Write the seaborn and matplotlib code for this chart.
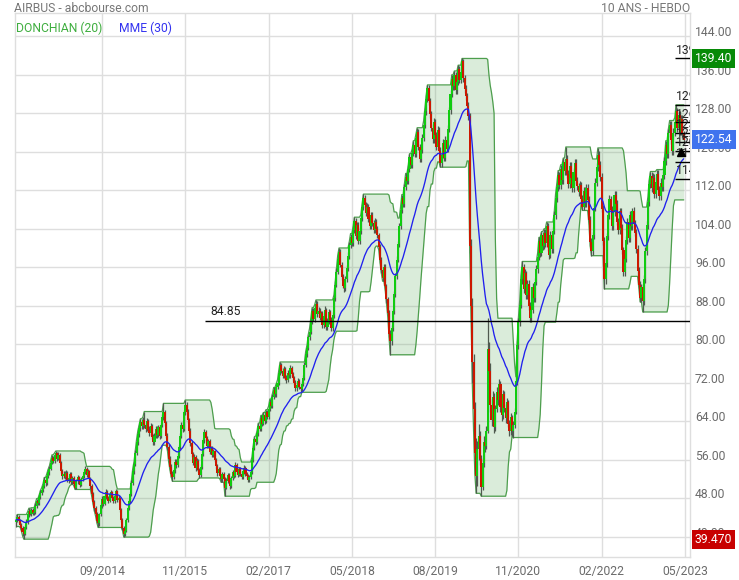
import numpy as np
import pandas as pd
import matplotlib
matplotlib.use("Agg")
import matplotlib.pyplot as plt
import matplotlib.transforms as mtransforms
import seaborn as sns

# AIRBUS, 10 years of weekly prices (one value per week, oldest first)
first_open = 43.0
close = [
    43.5, 44.0, 43.2, 42.5, 41.8, 40.9, 40.6, 41.9, 43.0, 44.6,
    45.3, 44.8, 45.5, 44.9, 45.2, 46.4, 47.3, 47.0, 48.2, 49.1,
    49.6, 50.5, 51.8, 51.2, 52.6, 53.4, 54.1, 55.3, 56.4, 55.8,
    56.9, 57.3, 56.2, 57.0, 55.4, 53.6, 52.5, 53.1, 52.4, 53.3,
    51.8, 52.0, 53.0, 51.4, 52.2, 51.0, 50.2, 51.5, 52.3, 51.6,
    50.8, 51.9, 52.6, 53.4, 54.1, 52.8, 53.6, 52.0, 50.5, 48.9,
    47.2, 46.0, 44.8, 43.3, 42.8, 44.6, 46.5, 47.9, 46.8, 48.4,
    49.3, 48.1, 47.5, 48.8, 49.2, 48.0, 47.3, 48.5, 49.4, 47.6,
    48.0, 45.6, 43.4, 41.8, 40.6, 41.2, 43.5, 45.9, 47.4, 48.8,
    51.2, 53.6, 55.0, 57.4, 59.6, 61.3, 62.5, 63.8, 62.9, 64.2,
    63.1, 62.4, 64.0, 62.2, 61.6, 63.0, 60.8, 59.6, 61.0, 62.4,
    61.1, 62.8, 60.9, 63.2, 64.8, 66.0, 63.6, 61.0, 58.7, 56.2,
    54.4, 53.0, 52.3, 53.8, 55.6, 54.9, 56.8, 58.6, 60.9, 63.2,
    62.4, 65.8, 67.4, 66.0, 64.2, 62.0, 59.4, 57.1, 55.4, 56.6,
    54.2, 55.8, 53.9, 52.8, 54.5, 57.2, 60.0, 61.8, 60.4, 58.9,
    59.8, 57.6, 58.4, 57.0, 57.8, 56.0, 54.6, 53.2, 54.0, 52.5,
    51.9, 53.0, 52.0, 50.2, 51.6, 52.8, 51.4, 50.6, 52.2, 53.4,
    52.6, 54.8, 53.5, 52.9, 54.0, 53.1, 52.4, 53.6, 54.2, 53.0,
    52.7, 51.8, 52.4, 53.5, 56.0, 58.4, 60.2, 59.6, 61.5, 63.0,
    62.4, 64.6, 63.5, 65.2, 64.0, 65.8, 64.9, 66.5, 68.0, 67.2,
    69.1, 70.4, 69.6, 71.2, 72.0, 74.0, 75.6, 74.5, 73.4, 74.8,
    73.0, 72.6, 74.1, 73.5, 75.0, 73.8, 72.9, 72.0, 70.8, 71.6,
    72.4, 71.1, 70.6, 71.8, 73.0, 75.6, 77.9, 79.2, 81.4, 82.6,
    84.8, 86.9, 85.3, 87.6, 88.4, 86.2, 87.0, 85.5, 86.4, 84.0,
    85.8, 87.2, 83.6, 84.9, 86.7, 85.1, 83.4, 86.0, 89.5, 92.4,
    95.1, 97.8, 99.2, 96.5, 94.0, 92.2, 91.6, 93.5, 95.8, 98.4,
    100.6, 102.3, 101.0, 103.8, 105.6, 102.5, 104.8, 101.4, 103.6, 106.2,
    108.5, 110.4, 109.0, 107.2, 108.6, 106.0, 104.5, 106.8, 105.2, 103.8,
    105.5, 104.0, 102.6, 100.2, 97.5, 95.4, 93.8, 96.0, 92.0, 89.3,
    86.5, 82.2, 80.6, 83.4, 86.8, 90.4, 94.2, 97.6, 100.8, 104.5,
    107.8, 110.4, 109.2, 112.6, 114.8, 113.9, 116.5, 118.9, 117.2, 119.8,
    121.5, 119.6, 122.8, 124.2, 121.0, 118.6, 120.4, 122.9, 125.6, 128.4,
    131.0, 133.2, 130.5, 127.8, 125.0, 122.6, 126.2, 123.4, 121.0, 124.5,
    120.2, 117.6, 119.4, 121.8, 118.8, 122.5, 120.6, 124.8, 128.6, 132.0,
    135.2, 133.6, 136.0, 132.8, 134.5, 137.2, 135.0, 136.6, 138.8, 135.4,
    133.0, 131.5, 129.6, 127.5, 100.5, 88.0, 76.2, 66.5, 57.4, 52.6,
    58.2, 61.0, 56.2, 50.4, 55.2, 59.6, 58.8, 62.0, 79.0, 74.5,
    67.4, 64.2, 69.0, 62.8, 66.5, 70.1, 68.4, 71.8, 67.0, 65.2,
    69.6, 66.8, 64.6, 67.9, 63.5, 62.0, 64.8, 61.9, 63.2, 66.0,
    72.4, 79.8, 84.6, 88.2, 93.5, 96.0, 91.4, 94.8, 90.2, 92.6,
    88.0, 85.4, 87.2, 91.8, 89.5, 93.0, 95.6, 98.2, 101.4, 99.0,
    102.6, 100.4, 103.2, 101.0, 104.6, 100.2, 98.6, 102.8, 99.8, 103.6,
    106.8, 110.4, 112.6, 115.2, 113.0, 116.4, 114.2, 117.8, 116.0, 118.6,
    115.4, 113.2, 117.0, 114.6, 112.4, 115.8, 117.6, 114.0, 112.8, 111.6,
    113.0, 110.2, 108.6, 111.8, 109.4, 112.4, 110.0, 105.8, 101.2, 99.4,
    102.6, 108.4, 113.6, 116.8, 119.4, 117.2, 114.8, 108.2, 101.5, 93.6,
    96.8, 102.4, 106.8, 110.2, 108.0, 104.6, 107.4, 111.0, 109.2, 105.5,
    103.8, 107.6, 104.2, 99.5, 95.0, 97.8, 101.6, 105.4, 102.0, 106.8,
    104.5, 107.6, 105.0, 103.2, 99.8, 95.2, 92.4, 89.6, 91.8, 88.9,
    93.5, 99.4, 104.8, 109.6, 113.2, 115.0, 112.4, 114.6, 111.2, 113.8,
    115.4, 112.0, 110.8, 113.6, 112.6, 115.2, 118.0, 121.4, 119.6, 123.8,
    125.6, 122.4, 120.2, 124.0, 126.2, 128.4, 125.0, 127.6, 124.2, 126.8,
    123.6, 122.54,
]
high = [
    44.3, 44.6, 44.4, 43.6, 42.9, 42.2, 41.5, 42.4, 43.6, 45.2,
    45.9, 45.8, 46.0, 45.9, 45.7, 46.9, 47.9, 47.8, 48.7, 49.6,
    50.2, 51.0, 52.3, 52.2, 53.1, 54.0, 54.7, 55.9, 57.0, 56.8,
    57.4, 57.8, 57.6, 57.5, 57.3, 55.8, 54.0, 53.7, 53.6, 53.8,
    53.6, 52.6, 53.5, 53.4, 52.7, 52.6, 51.5, 51.9, 52.8, 52.7,
    52.0, 52.3, 53.0, 53.9, 54.6, 54.4, 54.0, 53.9, 52.4, 50.9,
    49.3, 47.7, 46.4, 45.2, 43.9, 45.0, 46.9, 48.4, 48.2, 48.9,
    49.8, 49.6, 48.5, 49.3, 49.7, 49.5, 48.4, 48.9, 49.9, 49.7,
    48.6, 48.3, 45.9, 43.8, 42.2, 41.8, 43.9, 46.3, 47.9, 49.3,
    51.7, 54.1, 55.6, 58.0, 60.2, 62.0, 63.2, 64.5, 64.4, 64.9,
    66.0, 63.7, 64.6, 64.5, 62.9, 63.6, 63.4, 61.4, 61.5, 62.9,
    62.9, 63.3, 63.2, 63.7, 65.4, 67.7, 66.4, 64.1, 61.5, 59.2,
    56.7, 55.0, 53.6, 54.3, 56.1, 56.2, 57.3, 59.1, 61.5, 63.8,
    64.0, 66.3, 68.4, 67.9, 66.5, 64.6, 62.5, 59.9, 57.6, 57.2,
    56.9, 56.3, 56.2, 54.3, 55.0, 57.7, 60.6, 62.4, 62.2, 60.9,
    60.3, 60.2, 58.9, 58.8, 58.3, 58.1, 56.4, 55.0, 54.5, 54.4,
    53.0, 53.5, 53.4, 52.4, 52.1, 53.3, 53.2, 51.9, 52.7, 53.9,
    53.9, 55.5, 55.2, 53.9, 54.5, 54.4, 53.6, 54.1, 54.8, 54.6,
    53.5, 53.1, 52.9, 54.0, 56.5, 58.9, 60.8, 60.9, 62.0, 63.6,
    63.6, 65.2, 65.1, 65.8, 65.7, 66.4, 66.3, 67.1, 68.6, 68.5,
    69.7, 71.0, 70.9, 71.8, 72.6, 74.6, 76.3, 76.0, 75.0, 75.4,
    75.3, 73.6, 74.6, 74.6, 75.6, 75.4, 74.3, 73.4, 72.5, 72.1,
    72.9, 72.8, 71.6, 72.3, 73.5, 76.2, 78.5, 79.8, 82.0, 83.3,
    85.5, 87.6, 87.5, 88.2, 89.2, 88.9, 87.7, 87.6, 87.0, 86.9,
    86.4, 87.9, 87.6, 85.5, 87.3, 87.2, 85.6, 86.6, 90.2, 93.1,
    95.8, 98.5, 100.0, 99.8, 97.0, 94.6, 92.8, 94.1, 96.4, 99.1,
    101.3, 103.0, 102.9, 104.5, 106.4, 106.2, 105.5, 105.4, 104.3, 106.9,
    109.2, 111.2, 111.0, 109.6, 109.3, 109.2, 106.6, 107.5, 107.4, 105.8,
    106.2, 106.0, 104.6, 103.2, 100.8, 98.1, 96.0, 96.7, 96.6, 92.6,
    89.9, 87.1, 83.0, 84.0, 87.4, 91.1, 94.9, 98.3, 101.5, 105.2,
    108.5, 111.1, 111.0, 113.3, 115.5, 115.4, 117.2, 119.6, 119.5, 120.5,
    122.3, 122.1, 123.6, 125.0, 124.8, 121.6, 121.1, 123.7, 126.4, 129.2,
    131.8, 133.9, 133.8, 131.2, 128.5, 125.7, 127.0, 126.9, 124.1, 125.3,
    125.1, 120.9, 120.2, 122.6, 122.4, 123.3, 123.2, 125.6, 129.4, 132.8,
    136.0, 135.9, 136.8, 136.6, 135.3, 138.0, 137.9, 137.4, 139.4, 139.2,
    136.0, 133.8, 132.3, 130.4, 128.0, 101.8, 89.5, 78.0, 68.0, 60.5,
    59.8, 63.5, 62.0, 57.0, 56.4, 61.0, 61.2, 63.0, 85.4, 80.5,
    76.0, 68.6, 70.2, 69.8, 67.4, 71.2, 71.0, 72.8, 72.4, 67.8,
    70.5, 70.2, 67.5, 68.8, 68.4, 64.2, 65.6, 65.3, 64.0, 66.8,
    73.2, 80.6, 85.5, 89.1, 94.4, 97.2, 96.6, 95.6, 95.3, 93.4,
    93.4, 88.8, 88.0, 92.7, 92.5, 93.8, 96.4, 99.0, 102.2, 102.0,
    103.4, 103.3, 104.0, 103.9, 105.4, 105.2, 101.0, 103.6, 103.5, 104.4,
    107.6, 111.3, 113.5, 116.1, 115.9, 117.3, 117.1, 118.7, 118.5, 121.0,
    119.4, 116.2, 117.9, 117.8, 115.4, 116.6, 118.5, 118.4, 114.8, 113.6,
    113.9, 113.8, 111.0, 112.7, 112.6, 113.2, 113.2, 110.8, 106.6, 102.0,
    103.4, 109.3, 114.5, 117.7, 120.8, 120.2, 118.0, 115.6, 109.0, 102.3,
    97.8, 103.2, 107.7, 111.0, 110.9, 108.8, 108.3, 111.9, 111.8, 110.0,
    106.3, 108.4, 108.4, 105.0, 100.3, 98.7, 102.4, 106.3, 106.2, 107.7,
    107.6, 108.4, 108.5, 105.8, 104.0, 100.6, 96.0, 93.2, 92.6, 92.6,
    94.4, 100.3, 105.7, 110.5, 114.1, 115.9, 115.8, 115.5, 115.4, 114.7,
    116.3, 116.2, 112.8, 114.5, 114.4, 116.1, 118.9, 122.3, 122.2, 124.7,
    126.5, 126.4, 123.2, 124.9, 127.1, 129.75, 129.2, 128.5, 128.4, 127.7,
    127.6, 124.4,
]
low = [
    42.1, 43.0, 42.8, 42.0, 41.3, 40.2, 39.47, 40.3, 41.5, 42.7,
    44.1, 44.4, 44.3, 44.5, 44.4, 44.8, 46.0, 46.5, 46.6, 47.8,
    48.6, 49.2, 50.1, 50.6, 50.8, 52.1, 52.9, 53.8, 55.0, 55.2,
    55.4, 56.3, 55.8, 55.9, 55.0, 53.2, 52.0, 52.1, 51.9, 52.0,
    51.3, 51.2, 51.6, 51.0, 50.9, 50.6, 49.8, 49.9, 51.0, 51.1,
    50.3, 50.5, 51.5, 52.2, 53.0, 52.3, 52.4, 51.6, 50.0, 48.4,
    46.8, 45.4, 44.3, 42.9, 41.9, 42.3, 44.2, 46.0, 46.3, 46.5,
    47.9, 47.8, 47.0, 47.2, 48.3, 47.6, 46.9, 47.0, 48.1, 47.2,
    47.1, 45.2, 43.0, 41.3, 39.9, 40.1, 40.9, 43.1, 45.5, 47.0,
    48.4, 50.7, 53.0, 54.6, 56.9, 59.1, 60.7, 61.9, 62.3, 62.4,
    62.5, 61.8, 61.9, 61.7, 60.9, 61.1, 60.2, 59.0, 59.1, 60.5,
    60.6, 60.7, 60.3, 60.5, 62.7, 64.2, 63.0, 60.4, 58.1, 55.6,
    53.9, 52.4, 51.5, 51.9, 53.3, 54.3, 54.5, 56.3, 58.1, 60.4,
    61.8, 62.0, 65.3, 65.5, 63.7, 61.5, 58.8, 56.6, 54.9, 54.8,
    53.6, 53.8, 53.4, 52.2, 52.4, 54.0, 56.8, 59.4, 59.9, 58.4,
    58.4, 57.1, 57.1, 56.5, 56.6, 55.5, 54.1, 52.7, 52.8, 52.0,
    51.3, 51.4, 51.5, 48.4, 49.8, 51.1, 50.9, 50.0, 50.2, 51.7,
    52.1, 52.3, 53.0, 52.4, 52.5, 52.6, 51.9, 52.0, 53.1, 52.5,
    52.2, 51.3, 51.3, 52.0, 53.1, 55.6, 58.0, 59.0, 59.2, 61.0,
    61.9, 62.0, 63.0, 63.1, 63.5, 63.6, 64.4, 64.5, 66.1, 66.7,
    66.8, 68.6, 69.1, 69.1, 70.7, 71.5, 73.5, 74.0, 72.9, 72.9,
    72.5, 72.0, 72.1, 73.0, 73.0, 73.3, 72.4, 71.5, 70.2, 70.3,
    71.1, 70.6, 70.0, 70.2, 71.4, 72.6, 75.2, 77.4, 78.8, 80.9,
    82.1, 84.3, 84.8, 84.7, 87.0, 85.6, 85.6, 85.0, 84.9, 83.4,
    83.3, 85.2, 83.0, 83.0, 84.3, 84.5, 82.7, 82.8, 85.4, 88.9,
    91.8, 94.5, 97.2, 96.0, 93.4, 91.6, 90.9, 91.0, 92.9, 95.3,
    97.8, 100.0, 100.4, 100.4, 103.2, 101.9, 101.9, 100.8, 100.8, 103.0,
    105.6, 107.9, 108.4, 106.6, 106.6, 105.4, 103.9, 103.9, 104.6, 103.2,
    103.1, 103.4, 102.0, 99.6, 96.9, 94.8, 93.1, 93.2, 91.3, 88.6,
    85.8, 81.5, 77.8, 79.9, 82.8, 86.2, 89.8, 93.6, 97.0, 100.2,
    103.9, 107.2, 108.6, 108.6, 112.0, 113.3, 113.3, 115.9, 116.6, 116.6,
    119.1, 118.9, 118.9, 122.1, 120.3, 117.9, 117.9, 119.7, 122.2, 124.9,
    127.7, 130.3, 129.8, 127.1, 124.3, 121.9, 121.9, 122.7, 120.3, 120.3,
    119.5, 116.8, 116.9, 118.7, 118.1, 118.1, 119.9, 119.9, 124.1, 127.9,
    131.3, 132.8, 132.9, 132.0, 132.0, 133.8, 134.3, 134.2, 135.9, 134.6,
    132.3, 130.8, 128.9, 126.6, 99.0, 85.2, 72.0, 62.0, 53.0, 49.0,
    50.5, 56.0, 54.8, 48.4, 49.6, 54.5, 57.6, 58.2, 61.5, 72.0,
    66.0, 62.9, 63.2, 61.6, 61.9, 65.8, 67.3, 67.4, 66.0, 64.1,
    64.4, 66.0, 63.6, 63.9, 62.8, 61.0, 61.2, 60.9, 60.6, 62.5,
    65.4, 71.6, 79.0, 83.8, 87.5, 92.6, 90.6, 90.7, 89.4, 89.4,
    87.2, 84.6, 84.6, 86.5, 88.7, 88.8, 92.3, 94.9, 97.5, 98.2,
    98.3, 99.6, 99.7, 100.3, 100.3, 99.4, 97.8, 97.9, 99.0, 99.0,
    102.9, 106.0, 109.6, 111.8, 112.2, 112.2, 113.4, 113.4, 115.2, 115.2,
    114.6, 112.4, 112.5, 113.8, 111.6, 111.7, 115.0, 113.2, 112.0, 110.8,
    110.8, 109.4, 107.8, 107.9, 108.6, 108.6, 109.2, 105.0, 100.4, 98.4,
    98.6, 101.8, 107.6, 112.8, 116.0, 116.4, 114.0, 107.4, 100.7, 91.5,
    92.6, 96.0, 101.6, 106.0, 107.2, 103.8, 103.8, 106.6, 108.4, 104.7,
    103.0, 103.0, 103.4, 98.7, 94.2, 94.1, 97.0, 100.8, 101.2, 101.2,
    103.7, 103.7, 104.2, 102.4, 99.0, 94.4, 91.6, 88.8, 88.8, 86.7,
    88.1, 92.7, 98.6, 104.0, 108.8, 112.4, 111.6, 111.6, 110.4, 110.4,
    113.0, 111.2, 110.0, 110.0, 111.8, 111.8, 114.4, 117.2, 118.8, 118.8,
    123.0, 121.6, 119.4, 119.4, 123.2, 125.4, 124.2, 124.2, 123.4, 123.4,
    122.8, 121.7,
]

x_labels = ["09/2014", "11/2015", "02/2017", "05/2018",
            "08/2019", "11/2020", "02/2022", "05/2023"]
y_ticks = [40, 48, 56, 64, 72, 80, 88, 96, 104, 112, 120, 128, 136, 144]

# drawn lines on the chart
level_line = 84.85
level_start = 147.4
fib_levels = [129.75, 126.10, 123.85, 122.03, 120.20, 117.95, 114.30]
fib_start = 514.2
marker_week, marker_price = 518.5, 120.0

# ---- prepare OHLC + indicators ----
n = len(close)
weeks = np.arange(n)
c = np.array(close)
o = np.concatenate([[first_open], c[:-1]])
h = np.maximum(np.array(high), np.maximum(o, c))
l = np.minimum(np.array(low), np.minimum(o, c))

upper = pd.Series(h).rolling(20, min_periods=1).max()
lower = pd.Series(l).rolling(20, min_periods=1).min()
ema = pd.Series(c).ewm(span=30, adjust=False).mean()

sns.set_theme(style="white")
plt.rcParams["font.family"] = ["Roboto", "DejaVu Sans"]

fig = plt.figure(figsize=(7.39, 5.80), dpi=100)
ax = fig.add_axes([15 / 739, 23 / 580, 675 / 739, 544 / 580])

x_lo, x_hi = -0.86, 525.9
ax.set_xlim(x_lo, x_hi)
ax.set_ylim(35.76, 148.85)

# donchian channel
ax.fill_between(weeks, lower, upper, color="#5aa95a", alpha=0.22, lw=0, zorder=1)
sns.lineplot(x=weeks, y=upper, ax=ax, color="#4d9e4d", lw=0.9, estimator=None, zorder=2)
sns.lineplot(x=weeks, y=lower, ax=ax, color="#4d9e4d", lw=0.9, estimator=None, zorder=2)

# candles
up = c >= o
body = c - o
body = np.where(np.abs(body) < 0.3, np.where(up, 0.3, -0.3), body)
ax.vlines(weeks, l, h, color="#4f5a4f", lw=0.9, zorder=3)
ax.bar(weeks, body, bottom=o, width=1.6,
       color=np.where(up, "#10cc10", "#cc1800"), linewidth=0, zorder=3.5)

# MME 30
sns.lineplot(x=weeks, y=ema, ax=ax, color="#2020ee", lw=0.95, estimator=None, zorder=4)

# horizontal lines
ax.hlines(level_line, level_start, x_hi, color="black", lw=1, zorder=5)
ax.text(level_start + 4.5, level_line + 0.6, f"{level_line:.2f}", fontsize=8.7,
        color="#222222", va="bottom", ha="left", zorder=5)

hi_val = h.max()
lo_val = l.min()
for lev in [hi_val] + fib_levels:
    ax.hlines(lev, fib_start, x_hi, color="black", lw=1, zorder=5)
    ax.text(fib_start + 0.5, lev + 0.4, f"{lev:.2f}", fontsize=8.7, color="#222222",
            va="bottom", ha="left", clip_on=True, zorder=5)
ax.plot(marker_week, marker_price, marker="^", color="black", ms=6, zorder=6)

# grid / axes
ax.grid(True, color="#dedede", lw=1)
ax.set_axisbelow(True)
for s in ax.spines.values():
    s.set_color("#dedede")
    s.set_linewidth(1)

tick_pos = n - 65 * np.arange(len(x_labels) - 1, -1, -1)
ax.set_xticks(tick_pos)
ax.set_xticklabels(x_labels)
ax.set_yticks(y_ticks)
ax.set_yticklabels([f"{v:.2f}" for v in y_ticks], va="baseline")
ax.yaxis.tick_right()
ax.tick_params(axis="both", length=0, labelsize=8.7, labelcolor="#6b6b6b")
ax.tick_params(axis="y", pad=3.6)
ax.tick_params(axis="x", pad=5.5)
ax.set_xlabel("")
ax.set_ylabel("")

# value boxes on the price axis
trans = mtransforms.blended_transform_factory(ax.transAxes, ax.transData)
boxes = [(hi_val, f"{hi_val:.2f}", "#078a07"),
         (c[-1], f"{c[-1]:.2f}", "#3f73ee"),
         (lo_val, f"{lo_val:.3f}", "#c80000")]
for val, txt, col in boxes:
    ax.text(1 + 5 / 675, val, txt, transform=trans, fontsize=8.7, color="white",
            va="center", ha="left", clip_on=False, zorder=10,
            bbox=dict(boxstyle="square,pad=0.25", fc=col, ec="none"))

# titles and legend
fig.text(14 / 739, 1 - 9 / 580, "AIRBUS - abcbourse.com", fontsize=8.7,
         color="#777777", va="center", ha="left")
fig.text(690 / 739, 1 - 8 / 580, "10 ANS - HEBDO", fontsize=8.7,
         color="#777777", va="center", ha="right")
fig.text(16 / 739, 1 - 28 / 580, "DONCHIAN (20)", fontsize=8.7,
         color="#3fae3f", va="center", ha="left")
fig.text(119 / 739, 1 - 28 / 580, "MME (30)", fontsize=8.7,
         color="#3333f0", va="center", ha="left")

fig.savefig("out.png", dpi=100)
